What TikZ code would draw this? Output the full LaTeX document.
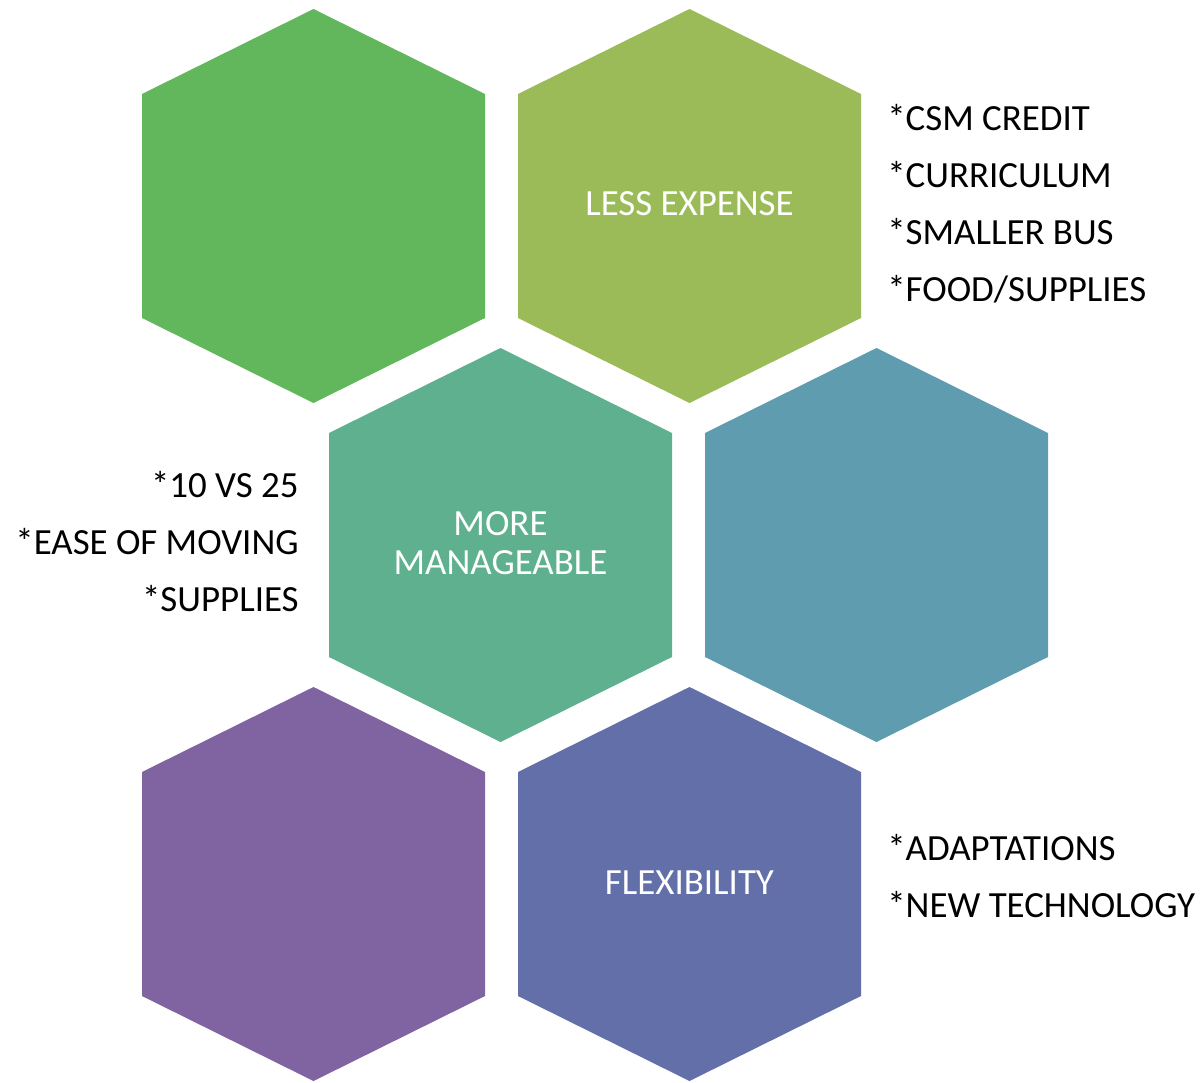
\documentclass[tikz,border=0pt]{standalone}
\usepackage{fontspec}
\setmainfont{Carlito}
\usepackage{tikz}
\usetikzlibrary{positioning}
\definecolor{hexgreen}{RGB}{98,182,92}
\definecolor{hexlime}{RGB}{155,187,89}
\definecolor{hexteal}{RGB}{94,176,143}
\definecolor{hexsteel}{RGB}{95,156,175}
\definecolor{hexpurple}{RGB}{127,100,161}
\definecolor{hexblue}{RGB}{98,111,168}
\tikzset{
  label text/.style={font=\fontsize{21}{24}\selectfont, inner sep=0pt, text=white},
  list text/.style={font=\fontsize{21}{24}\selectfont, inner sep=0pt, text=black}
}
% hexagon cell: name, centre, fill colour
\newcommand{\hexcell}[3]{
  \fill[#3, shift={(#2)}] (0,-197) -- (171.5,-112) -- (171.5,112) -- (0,197)
    -- (-171.5,112) -- (-171.5,-112) -- cycle;
  \coordinate (#1) at (#2);
}

\begin{document}
\begin{tikzpicture}[x=0.02cm, y=-0.02cm]
      \useasboundingbox (0,0) rectangle (1203,1082);
      \hexcell{H1}{313.5,206}{hexgreen}
      \hexcell{H2}{689.5,206}{hexlime}
      \hexcell{H3}{500.5,545}{hexteal}
      \hexcell{H4}{876.5,545}{hexsteel}
      \hexcell{H5}{313.5,884}{hexpurple}
      \hexcell{H6}{689.5,884}{hexblue}
      \node[label text, anchor=base] (L) at (689.5,215) {LESS EXPENSE};
      \node[label text, anchor=base] (M) at (500.5,535) {MORE};
      \node[label text, anchor=base] (M2) at (500.5,574) {MANAGEABLE};
      \node[label text, anchor=base] (F) at (689.5,894) {FLEXIBILITY};
      \node[list text, anchor=base west] (L1) at (887,130) {*CSM CREDIT};
      \node[list text, anchor=base west] (L2) at (887,187) {*CURRICULUM};
      \node[list text, anchor=base west] (L3) at (887,244) {*SMALLER BUS};
      \node[list text, anchor=base west] (L4) at (887,301) {*FOOD/SUPPLIES};
      \node[list text, anchor=base east] (M3) at (299,497) {*10 VS 25};
      \node[list text, anchor=base east] (M4) at (299,554) {*EASE OF MOVING};
      \node[list text, anchor=base east] (M5) at (299,611) {*SUPPLIES};
      \node[list text, anchor=base west] (F1) at (887,860) {*ADAPTATIONS};
      \node[list text, anchor=base west] (F2) at (887,917) {*NEW TECHNOLOGY};
    \end{tikzpicture}
\end{document}
